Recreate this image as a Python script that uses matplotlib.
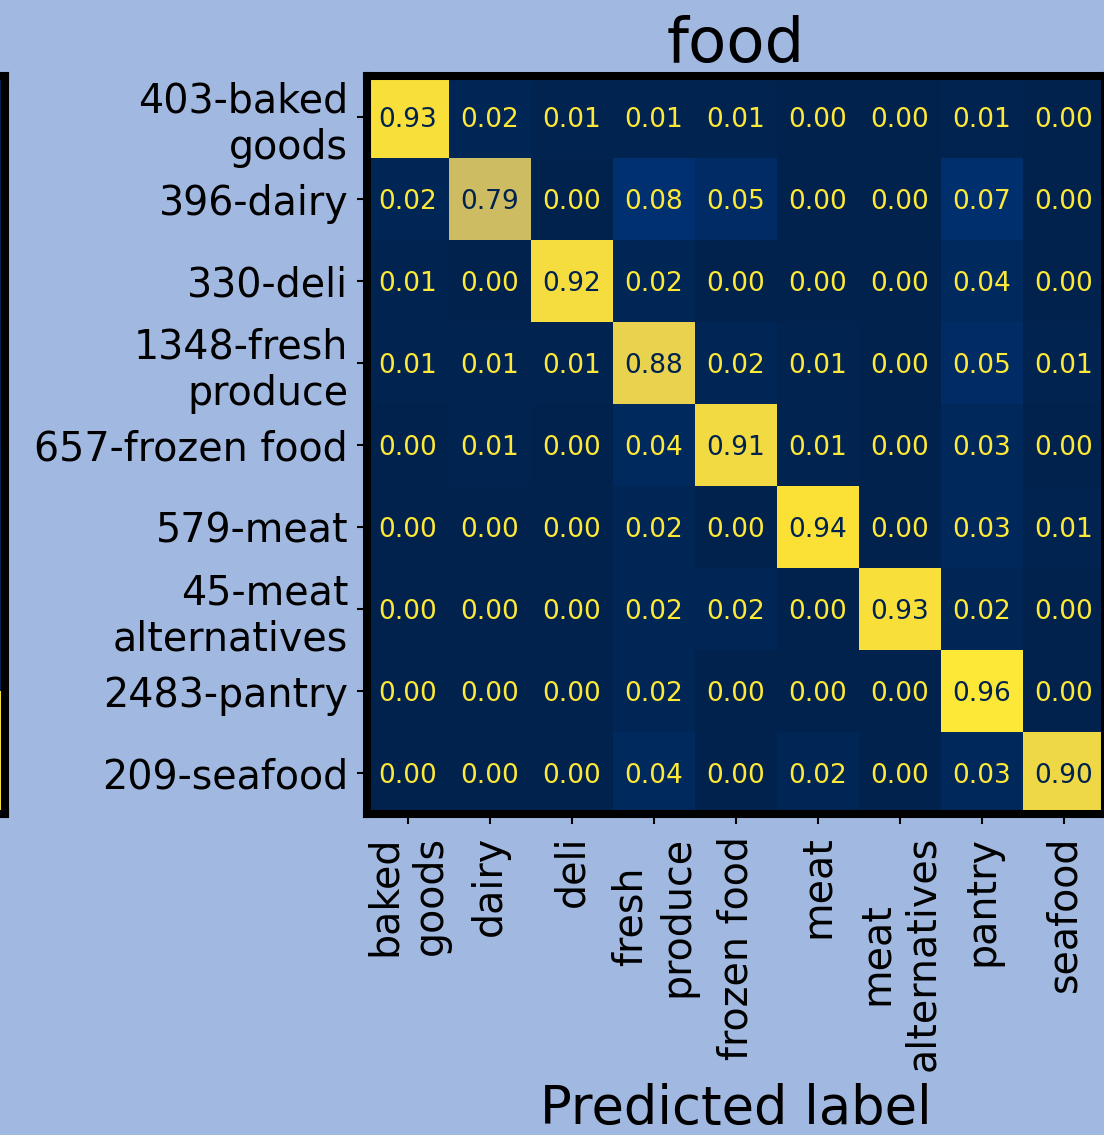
import numpy as np
import matplotlib
matplotlib.use("Agg")
import matplotlib.pyplot as plt

# matriz de confusao normalizada (linhas = rotulo verdadeiro)
classes = ["baked goods", "dairy", "deli", "fresh produce", "frozen food",
           "meat", "meat alternatives", "pantry", "seafood"]
counts = [403, 396, 330, 1348, 657, 579, 45, 2483, 209]
y_labels = ["403-baked\ngoods", "396-dairy", "330-deli", "1348-fresh\nproduce",
            "657-frozen food", "579-meat", "45-meat\nalternatives", "2483-pantry",
            "209-seafood"]
x_labels = ["baked\ngoods", "dairy", "deli", "fresh\nproduce", "frozen food",
            "meat", "meat\nalternatives", "pantry", "seafood"]

cm = np.array([
    [0.93, 0.02, 0.01, 0.01, 0.01, 0.00, 0.00, 0.01, 0.00],
    [0.02, 0.79, 0.00, 0.08, 0.05, 0.00, 0.00, 0.07, 0.00],
    [0.01, 0.00, 0.92, 0.02, 0.00, 0.00, 0.00, 0.04, 0.00],
    [0.01, 0.01, 0.01, 0.88, 0.02, 0.01, 0.00, 0.05, 0.01],
    [0.00, 0.01, 0.00, 0.04, 0.91, 0.01, 0.00, 0.03, 0.00],
    [0.00, 0.00, 0.00, 0.02, 0.00, 0.94, 0.00, 0.03, 0.01],
    [0.00, 0.00, 0.00, 0.02, 0.02, 0.00, 0.93, 0.02, 0.00],
    [0.00, 0.00, 0.00, 0.02, 0.00, 0.00, 0.00, 0.96, 0.00],
    [0.00, 0.00, 0.00, 0.04, 0.00, 0.02, 0.00, 0.03, 0.90],
])

# ultima coluna do painel vizinho (a esquerda)
prev_last_col = [0.01, 0.02, 0.01, 0.03, 0.02, 0.92]

bg = "#a1b8e0"
W, H = 1104, 1135
fig = plt.figure(figsize=(W / 100, H / 100), dpi=100, facecolor=bg)

# posicoes em pixels -> fracao da figura
left, top, side = 367, 76, 738
ax = fig.add_axes([left / W, 1 - (top + side) / H, side / W, side / H])
ax_prev = fig.add_axes([(4.5 - side) / W, 1 - (top + side) / H, side / W, side / H])

cmap = plt.get_cmap("cividis")

# painel vizinho, so a borda direita aparece
ax_prev.imshow(np.array(prev_last_col)[:, None], cmap=cmap, vmin=0, vmax=max(prev_last_col),
               aspect="auto", extent=(-0.5, 0.5, len(prev_last_col) - 0.5, -0.5))
ax_prev.set_xlim(-5.5, 0.5)
ax_prev.set_ylim(len(prev_last_col) - 0.5, -0.5)
ax_prev.set_facecolor(cmap(0))
ax_prev.set_xticks([])
ax_prev.set_yticks([])
for s in ax_prev.spines.values():
    s.set_linewidth(5.8)
    s.set_color("black")

# matriz principal
im = ax.imshow(cm, cmap=cmap, interpolation="nearest")
thresh = (cm.max() + cm.min()) / 2
for i in range(cm.shape[0]):
    for j in range(cm.shape[1]):
        color = cmap(1.0) if cm[i, j] < thresh else cmap(0)
        ax.text(j, i, f"{cm[i, j]:.2f}", ha="center", va="center_baseline",
                color=color, fontsize=19)

ax.set_xticks(np.arange(len(classes)))
ax.set_yticks(np.arange(len(classes)))
ax.set_xticklabels(x_labels, rotation=90, fontsize=28.5)
ax.set_yticklabels(y_labels, fontsize=28.5)
ax.tick_params(axis="both", length=7.5, width=1.5)
ax.tick_params(axis="x", pad=8)
ax.tick_params(axis="y", pad=6)
for s in ax.spines.values():
    s.set_linewidth(5.8)
    s.set_color("black")

ax.set_title("food", fontsize=45, pad=10)
ax.set_xlabel("Predicted label", fontsize=38, labelpad=9)

fig.savefig("out.png", dpi=100, facecolor=bg)
